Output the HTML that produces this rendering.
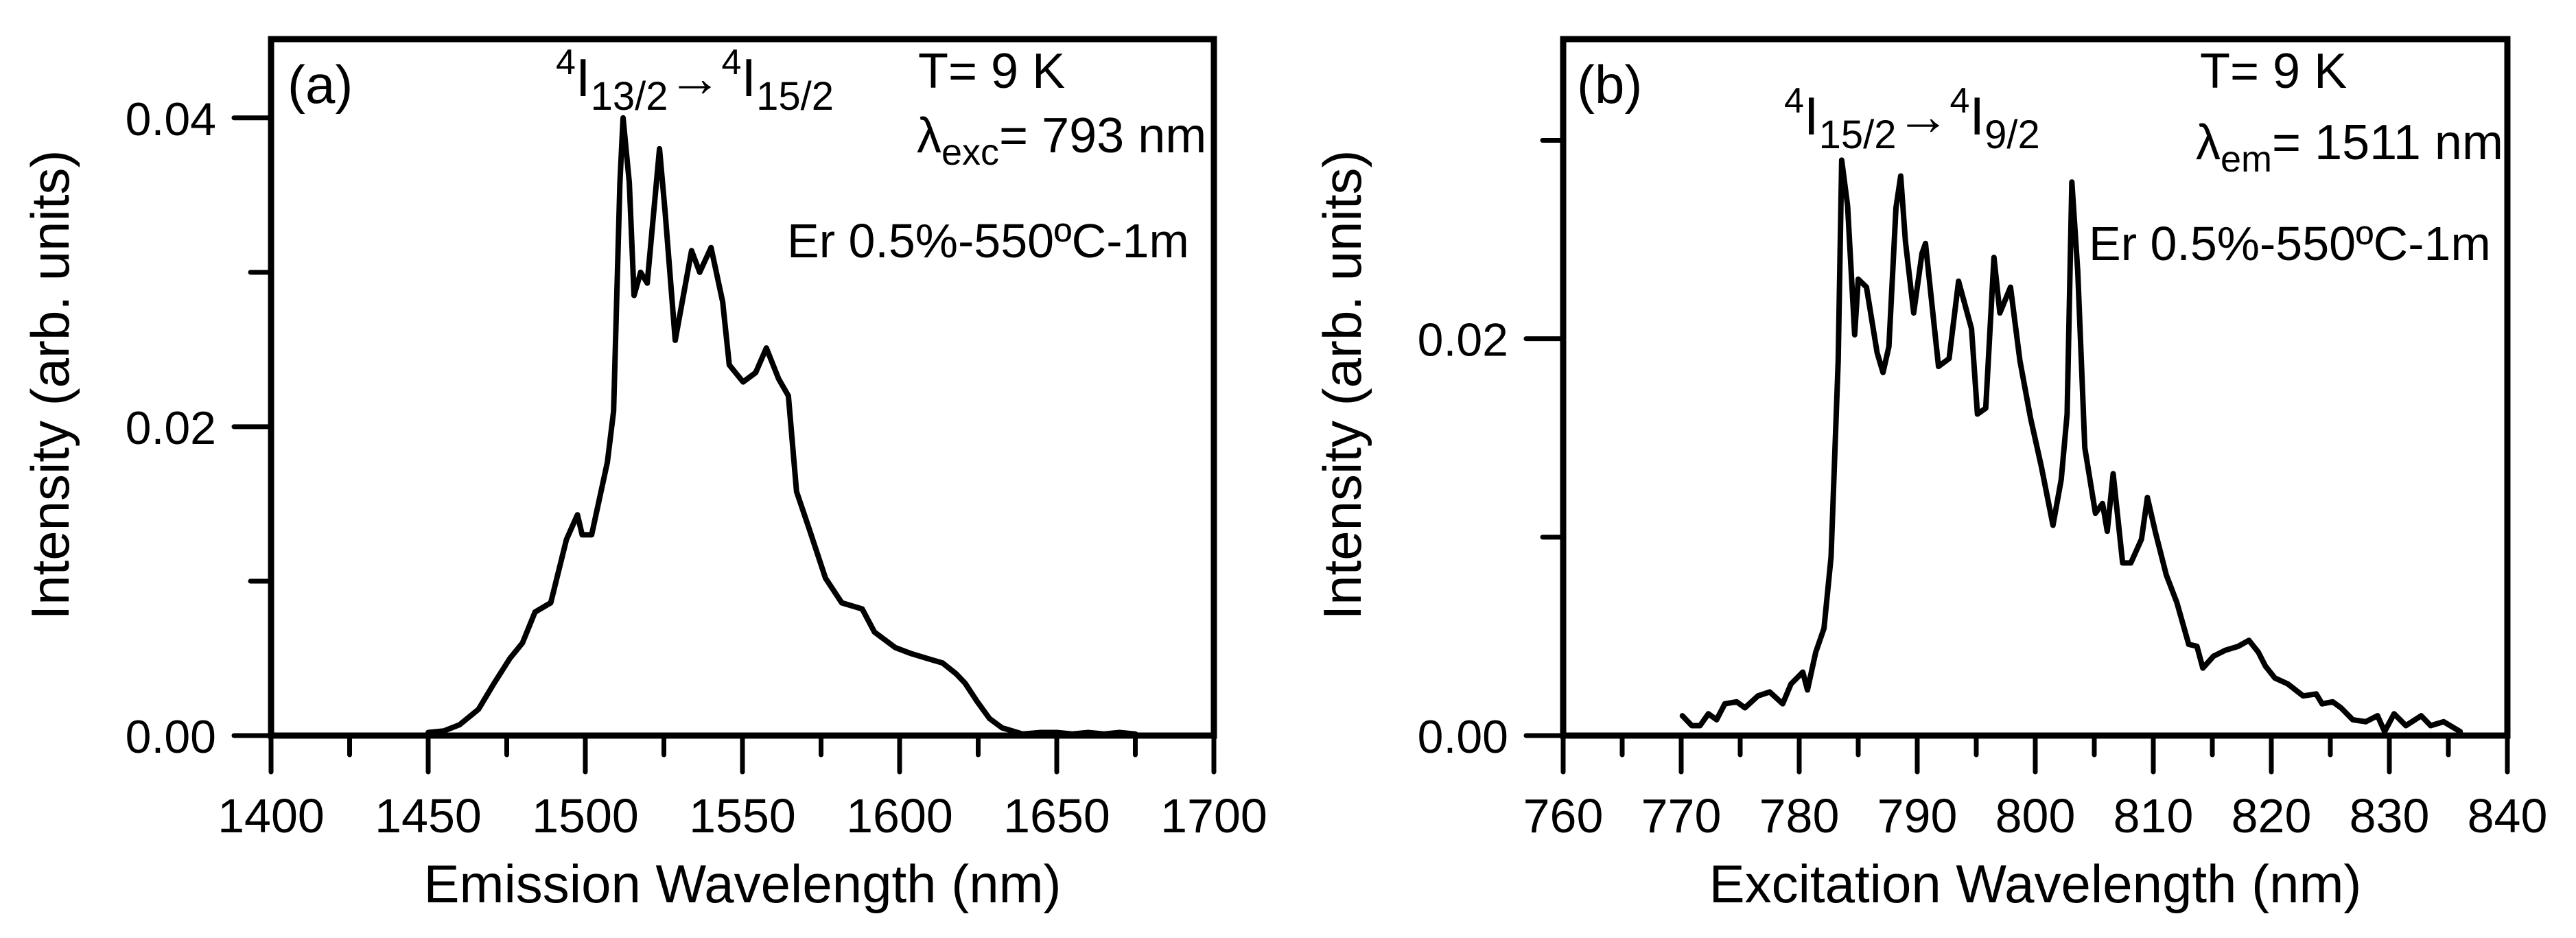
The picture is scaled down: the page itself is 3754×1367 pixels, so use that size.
<!DOCTYPE html>
<html><head><meta charset="utf-8"><style>
html,body{margin:0;padding:0;background:#fff;}
svg{display:block;font-family:"Liberation Sans",sans-serif;}
</style></head><body>
<svg id="fig" width="3754" height="1367" viewBox="0 0 3754 1367" xmlns="http://www.w3.org/2000/svg">
<rect width="3754" height="1367" fill="#fff"/>
<g id="pa"></g>
<g id="pb"></g>
<g font-size="72" fill="#000">
<text x="419" y="150" font-size="78">(a)</text>
<text x="810" y="140" font-size="78"><tspan font-size="52" dy="-32">4</tspan><tspan dy="32">I</tspan><tspan font-size="58" dy="20">13/2</tspan><tspan dy="-20">→</tspan><tspan font-size="52" dy="-32">4</tspan><tspan dy="32">I</tspan><tspan font-size="58" dy="20">15/2</tspan></text>
<text x="1338" y="128">T= 9 K</text>
<text x="1336" y="222">λ<tspan font-size="54" dy="18">exc</tspan><tspan dy="-18">= 793 nm</tspan></text>
<text x="1147" y="375" font-size="70">Er 0.5%-550ºC-1m</text>
</g>
<g font-size="72" fill="#000">
<text x="2298" y="150" font-size="78">(b)</text>
<text x="2600" y="196" font-size="78"><tspan font-size="52" dy="-32">4</tspan><tspan dy="32">I</tspan><tspan font-size="58" dy="20">15/2</tspan><tspan dy="-20">→</tspan><tspan font-size="52" dy="-32">4</tspan><tspan dy="32">I</tspan><tspan font-size="58" dy="20">9/2</tspan></text>
<text x="3206" y="128">T= 9 K</text>
<text x="3200" y="232">λ<tspan font-size="54" dy="18">em</tspan><tspan dy="-18">= 1511 nm</tspan></text>
<text x="3044" y="379" font-size="70">Er 0.5%-550ºC-1m</text>
</g>
</svg>
<script>
// Panel (a) emission data
const emX = [1450,1455,1460,1466,1471,1476,1480,1484,1489,1494,1497.5,1499,1502,1507,1509,1511,1512,1514,1515.5,1517.6,1519.7,1523.6,1525.4,1528.6,1533.8,1536.4,1540,1543.7,1545.8,1550.2,1554.2,1557.6,1561.5,1564.6,1567.2,1571.2,1576.4,1581.6,1588.1,1592,1598.6,1603.8,1610.3,1613.7,1618,1620.8,1624.7,1628.6,1632.6,1639.1,1645,1650,1655,1660,1665,1670,1675];
const emY = [0.0002,0.0003,0.0007,0.0017,0.0034,0.005,0.006,0.008,0.0086,0.0127,0.0143,0.013,0.013,0.0177,0.021,0.0358,0.040,0.0358,0.0285,0.030,0.0293,0.038,0.0339,0.0256,0.0314,0.030,0.0316,0.0281,0.024,0.0229,0.0235,0.0251,0.0231,0.022,0.0158,0.0134,0.0102,0.0086,0.0082,0.0067,0.0057,0.0053,0.0049,0.0047,0.004,0.0034,0.0022,0.0011,0.0005,0.0001,0.0002,0.0002,0.0001,0.0002,0.0001,0.0002,0.0001];
const emXTicks = [1400,1450,1500,1550,1600,1650,1700];
const emYTicks = ["0.00","0.02","0.04"];
// Panel (b) excitation data
const exX = [770.1,770.9,771.6,772.3,773.0,773.7,774.7,775.4,776.5,777.5,778.6,779.3,780.3,780.7,781.4,782.1,782.7,783.3,783.6,784.1,784.7,785.0,785.7,786.6,787.1,787.6,788.2,788.6,789.0,789.7,790.4,790.7,791.8,792.7,793.5,794.6,795.1,795.8,796.5,797.0,797.9,798.7,799.6,800.5,801.5,802.2,802.7,803.1,803.6,804.2,805.1,805.7,806.1,806.6,807.4,808.1,809.0,809.5,810.2,811.1,812.0,813.0,813.7,814.2,815.1,816.1,817.2,818.1,818.9,819.5,820.3,821.4,822.7,823.8,824.3,825.2,825.9,826.9,828.0,829.0,829.6,830.4,831.4,832.7,833.5,834.6,836.0];
const exY = [0.001,0.0005,0.0005,0.0011,0.0008,0.0016,0.0017,0.0014,0.002,0.0022,0.0016,0.0026,0.0032,0.0023,0.0042,0.0054,0.009,0.0189,0.029,0.0267,0.0202,0.023,0.0226,0.0193,0.0183,0.0196,0.0266,0.0282,0.0249,0.0213,0.0243,0.0248,0.0186,0.019,0.0229,0.0205,0.0162,0.0165,0.0241,0.0213,0.0226,0.0189,0.016,0.0136,0.0106,0.0129,0.0162,0.0279,0.0234,0.0145,0.0112,0.0117,0.0103,0.0132,0.0087,0.0087,0.0099,0.012,0.0102,0.0081,0.0067,0.0046,0.0045,0.0034,0.004,0.0043,0.0045,0.0048,0.0042,0.0035,0.0029,0.0026,0.002,0.0021,0.0016,0.0017,0.0014,0.0008,0.0007,0.001,0.0002,0.0011,0.0005,0.001,0.0005,0.0007,0.0002];
const exXTicks = [760,770,780,790,800,810,820,830,840];
const exYTicks = ["0.00","0.02"];

const NS = "http://www.w3.org/2000/svg";
function mk(parent, tag, attrs){const e=document.createElementNS(NS,tag);for(const k in attrs)e.setAttribute(k,attrs[k]);parent.appendChild(e);return e;}

function panel(g, cfg){
  const L=cfg.L,R=cfg.R,T=cfg.T,B=cfg.B;
  const sx=v=>L+(v-cfg.x0)/(cfg.x1-cfg.x0)*(R-L);
  const sy=v=>B-(v-0)/(cfg.y1)*(B-T);
  const fr=mk(g,'path',{d:`M${L},${B} L${L},${T} L${R},${T} L${R},${B} Z`,fill:'none',stroke:'#000','stroke-width':9});
  
  
  const xt=cfg.xTicks;
  for(let i=0;i<xt.length;i++){
    const x=sx(xt[i]);
    const t=mk(g,'line',{x1:x,y1:B,x2:x,y2:B+53,stroke:'#000','stroke-width':7,'stroke-linecap':'round'});
    
    
    const lb=mk(g,'text',{x:x,y:1213,'font-size':70,'text-anchor':'middle'});
    lb.textContent=xt[i];
    
    
    if(i<xt.length-1){
      const xm=sx((xt[i]+xt[i+1])/2);
      const m=mk(g,'line',{x1:xm,y1:B,x2:xm,y2:B+28,stroke:'#000','stroke-width':7,'stroke-linecap':'round'});
      
      
    }
  }
  const yt=cfg.yTicks;
  for(let i=0;i<yt.length;i++){
    const v=parseFloat(yt[i]);
    const y=sy(v);
    const t=mk(g,'line',{x1:L-54,y1:y,x2:L,y2:y,stroke:'#000','stroke-width':7,'stroke-linecap':'round'});
    
    
    const lb=mk(g,'text',{x:L-80,y:y+25,'font-size':68,'text-anchor':'end'});
    lb.textContent=yt[i];
    
    
  }
  for(const v of cfg.yMinor){
    const y=sy(v);
    const m=mk(g,'line',{x1:L-30,y1:y,x2:L,y2:y,stroke:'#000','stroke-width':7,'stroke-linecap':'round'});
    
    
  }
  const xtl=mk(g,'text',{x:(L+R)/2,y:1315,'font-size':78,'text-anchor':'middle'});
  xtl.textContent=cfg.xTitle;
  
  
  const ytl=mk(g,'text',{x:0,y:0,'font-size':78,'text-anchor':'middle',transform:`translate(${cfg.yTitleX},561) rotate(-90)`});
  ytl.textContent='Intensity (arb. units)';
  
  
  let d='';
  for(let i=0;i<cfg.xs.length;i++){d+=(i?'L':'M')+sx(cfg.xs[i]).toFixed(1)+','+sy(cfg.ys[i]).toFixed(1);}
  const p=mk(g,'path',{d:d,fill:'none',stroke:'#000','stroke-width':8,'stroke-linejoin':'round','stroke-linecap':'round'});
  
  
}

panel(document.getElementById('pa'),{L:395,R:1769,T:57,B:1072,x0:1400,x1:1700,y1:0.0451,
  xTicks:emXTicks,yTicks:emYTicks,yMinor:[0.01,0.03],xTitle:'Emission Wavelength (nm)',yTitleX:100,xs:emX,ys:emY});
panel(document.getElementById('pb'),{L:2278,R:3654,T:57,B:1072,x0:760,x1:840,y1:0.0351,
  xTicks:exXTicks,yTicks:exYTicks,yMinor:[0.01,0.03],xTitle:'Excitation Wavelength (nm)',yTitleX:1983,xs:exX,ys:exY});
</script>
</body></html>
